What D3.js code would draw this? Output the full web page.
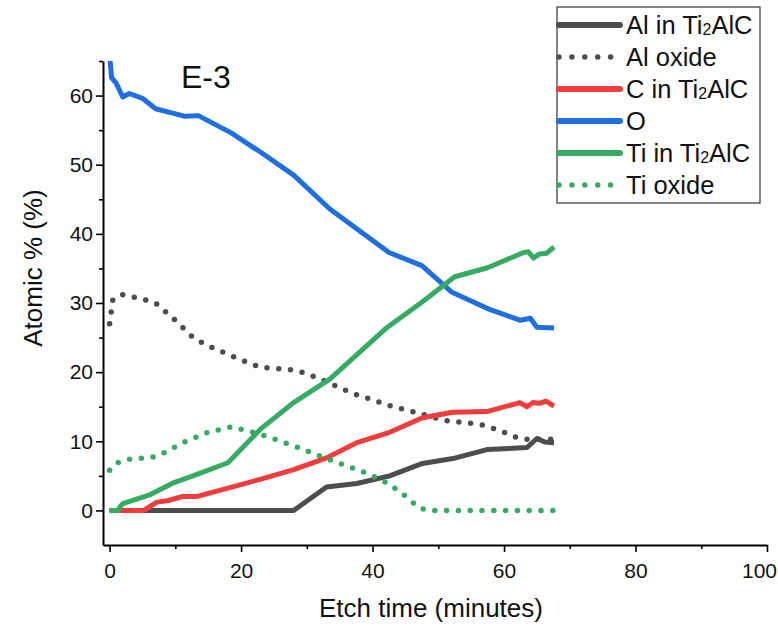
<!DOCTYPE html>
<html>
<head>
<meta charset="utf-8">
<script src="https://cdn.jsdelivr.net/npm/d3@7"></script>
<style>
  body { margin: 0; background: #fff; }
  svg { font-family: "Liberation Sans", Arial, sans-serif; }
</style>
</head>
<body>
<svg id="chart" width="778" height="626"></svg>
<script>
// series data
const alTime = [0, 28, 33, 37.6, 42.6, 47.6, 52.2, 57.4, 63.5, 65, 66.2, 67.6];
const alVal  = [0, 0, 3.4, 3.9, 5.0, 6.8, 7.5, 8.8, 9.1, 10.4, 9.9, 9.8];

const alOxTime = [0, 0.5, 2, 5, 7, 10, 12.5, 14.5, 17.7, 21, 23, 28, 30, 33.5, 37, 40.3, 42, 47.6, 51, 55, 57, 60, 62, 63.5, 67.6];
const alOxVal  = [27.0, 30.5, 31.2, 30.6, 30.0, 27.5, 25.2, 24.0, 22.7, 21.4, 20.7, 20.3, 19.8, 18.4, 16.9, 15.9, 15.3, 13.9, 13.0, 12.6, 12.3, 11.3, 10.5, 10.3, 10.3];

const cTime = [0, 1.5, 5.2, 7.2, 8.8, 11, 13.2, 18.3, 23.3, 28, 33, 37.6, 42.6, 47.6, 52.2, 57.4, 62.4, 63.5, 64.4, 65.4, 66.4, 67.6];
const cVal  = [0, 0, 0, 1.2, 1.4, 2.0, 2.0, 3.3, 4.6, 5.9, 7.6, 9.8, 11.3, 13.4, 14.2, 14.3, 15.6, 15.0, 15.6, 15.5, 15.8, 15.1];

const oTime = [0, 0.3, 1, 2, 3, 5, 7, 9, 11.5, 13.5, 18.5, 23, 28, 33.5, 42.5, 47.5, 52, 57.5, 62.5, 64, 65, 67.6];
const oVal  = [66, 62.6, 61.8, 59.8, 60.3, 59.6, 58.1, 57.6, 57.0, 57.1, 54.6, 51.8, 48.5, 43.6, 37.3, 35.4, 31.6, 29.2, 27.5, 27.8, 26.5, 26.4];

const tiTime = [0, 1.2, 2, 6, 9.5, 13.5, 18, 23, 28, 33.5, 42, 47.5, 52.5, 57.5, 63, 63.7, 64.5, 65.4, 66.5, 67.6];
const tiVal  = [0, 0, 1.0, 2.2, 3.9, 5.3, 6.9, 11.8, 15.6, 19.0, 26.3, 30.1, 33.8, 35.1, 37.3, 37.4, 36.5, 37.1, 37.2, 38.1];

const tiOxTime = [0, 1.2, 3, 6.5, 8, 11.6, 15, 18.6, 20.2, 24, 29, 33, 38, 41, 43, 45.5, 47, 48.6, 67.6];
const tiOxVal  = [5.8, 6.9, 7.4, 7.7, 8.2, 10.0, 11.3, 12.1, 11.7, 10.7, 9.0, 7.5, 5.8, 4.6, 3.5, 1.7, 0.4, 0, 0];

const seriesNames = ['Al in Ti|2|AlC', 'Al oxide', 'C in Ti|2|AlC', 'O', 'Ti in Ti|2|AlC', 'Ti oxide'];
const seriesColors = ['#4d4d4d', '#4d4d4d', '#ef3c3c', '#1f6fe0', '#37ab64', '#37ab64'];
const seriesDotted = [false, true, false, false, false, true];
const seriesData = [
  [alTime, alVal], [alOxTime, alOxVal], [cTime, cVal],
  [oTime, oVal], [tiTime, tiVal], [tiOxTime, tiOxVal]
];

const xTicks = [0, 20, 40, 60, 80, 100];
const yTicks = [0, 10, 20, 30, 40, 50, 60];

const svg = d3.select('#chart');
const plot = { left: 103, right: 767, top: 61, bottom: 545 };

const x = d3.scaleLinear().domain([-1, 100]).range([plot.left, plot.right]);
const y = d3.scaleLinear().domain([-5, 65]).range([plot.bottom, plot.top]);

svg.append('defs').append('clipPath').attr('id', 'clip')
  .append('rect')
  .attr('x', plot.left).attr('y', plot.top)
  .attr('width', plot.right - plot.left).attr('height', plot.bottom - plot.top);

// axes
svg.append('g')
  .attr('transform', `translate(0,${plot.bottom})`)
  .call(d3.axisBottom(x).tickValues(xTicks).tickSize(7).tickPadding(11).tickSizeOuter(0));
svg.append('g')
  .attr('transform', `translate(0,${plot.bottom})`)
  .call(d3.axisBottom(x).tickValues([10, 30, 50, 70, 90]).tickSize(4).tickFormat('').tickSizeOuter(0))
  .select('.domain').remove();

svg.append('g')
  .attr('transform', `translate(${plot.left},0)`)
  .call(d3.axisLeft(y).tickValues(yTicks).tickSize(7).tickPadding(3).tickSizeOuter(0));
svg.append('g')
  .attr('transform', `translate(${plot.left},0)`)
  .call(d3.axisLeft(y).tickValues([5, 15, 25, 35, 45, 55, 65]).tickSize(4).tickFormat('').tickSizeOuter(0))
  .select('.domain').remove();

svg.selectAll('.domain').attr('stroke', '#000').attr('stroke-width', 2);
svg.selectAll('.tick line').attr('stroke', '#000').attr('stroke-width', 1.6);
svg.selectAll('.tick text').attr('font-size', 21).attr('fill', '#111')
  .attr('font-family', '"Liberation Sans", Arial, sans-serif');
// keep the last x label inside the picture
svg.selectAll('.tick text').filter(d => d === 100).attr('dx', -8);

// axis titles
svg.append('text')
  .attr('x', 431).attr('y', 617)
  .attr('text-anchor', 'middle').attr('font-size', 26).attr('fill', '#111')
  .text('Etch time (minutes)');
svg.append('text')
  .attr('transform', 'translate(42,268) rotate(-90)')
  .attr('text-anchor', 'middle').attr('font-size', 26).attr('fill', '#111')
  .text('Atomic % (%)');

svg.append('text')
  .attr('x', 181).attr('y', 88)
  .attr('font-size', 32).attr('fill', '#111')
  .text('E-3');

// lines
const line = d3.line().x(d => x(d[0])).y(d => y(d[1]));
const lines = svg.append('g').attr('clip-path', 'url(#clip)');

seriesData.forEach((s, i) => {
  const pts = s[0].map((t, j) => [t, s[1][j]]);
  const p = lines.append('path')
    .datum(pts)
    .attr('d', line)
    .attr('fill', 'none')
    .attr('stroke', seriesColors[i])
    .attr('stroke-linejoin', 'round');
  if (seriesDotted[i]) {
    p.attr('stroke-width', 5.5).attr('stroke-linecap', 'round').attr('stroke-dasharray', '0 11.8');
  } else {
    p.attr('stroke-width', 5).attr('stroke-linecap', 'butt');
  }
});

// legend
const legend = svg.append('g');
legend.append('rect')
  .attr('x', 557).attr('y', 7).attr('width', 203).attr('height', 196)
  .attr('fill', '#fff').attr('stroke', '#333').attr('stroke-width', 1.2);

seriesNames.forEach((name, i) => {
  const cy = 25 + i * 32;
  const sample = legend.append('line')
    .attr('x1', 559).attr('x2', seriesDotted[i] ? 612 : 620)
    .attr('y1', cy).attr('y2', cy)
    .attr('stroke', seriesColors[i]);
  if (seriesDotted[i]) {
    sample.attr('stroke-width', 5.5).attr('stroke-linecap', 'round').attr('stroke-dasharray', '0 12.9');
  } else {
    sample.attr('stroke-width', 6).attr('stroke-linecap', 'round');
  }
  const parts = name.split('|');
  const txt = legend.append('text')
    .attr('x', 626).attr('y', cy + 9)
    .attr('font-size', 25.5).attr('fill', '#111');
  txt.append('tspan').text(parts[0]);
  if (parts.length > 1) {
    txt.append('tspan').attr('font-size', 16).attr('dy', 1).text(parts[1]);
    txt.append('tspan').attr('dy', -1).text(parts[2]);
  }
});
</script>
</body>
</html>
